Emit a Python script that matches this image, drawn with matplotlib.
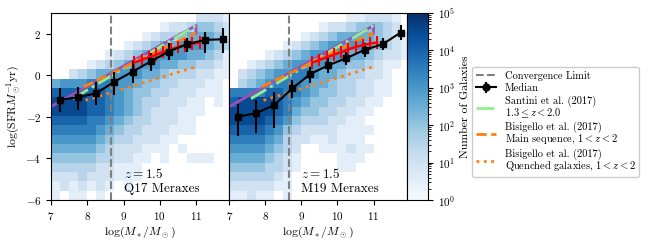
import numpy as np
import matplotlib.pyplot as plt
from matplotlib.colors import LogNorm
from matplotlib.lines import Line2D

plt.rcParams['font.family'] = 'serif'
plt.rcParams['font.serif'] = ['cmr10']
plt.rcParams['mathtext.fontset'] = 'cm'
plt.rcParams['axes.formatter.use_mathtext'] = True

# 2D histogram, top row (SFR ~ 3) first.
# '.' = empty, digit d = log10(count) ~ 0.5*d
q17_grid = [
    "................2221",
    "............12234432",
    "..........1233455542",
    "........123455666543",
    "......12345666655431",
    "....1234566655443321",
    "..234556665543332211",
    "5666777665443322211.",
    "8888887654433222111.",
    "99998876543322211.1.",
    "99998876543222111...",
    "8888776543322211....",
    "7777765433222111....",
    "66666543322211......",
    "5555543222111.1.....",
    "44444332211.1..111..",
    "3333322111..........",
    "2223222111..........",
    "1212121.1...........",
    "1.11.1..............",
]
m19_grid = [
    ".............112221.",
    "..........122344432.",
    "........123455554321",
    "......12345666654321",
    "....1234566665543221",
    "..12345666655443211.",
    ".23456677655433221..",
    ".34567776554332211..",
    "777788776544332211..",
    "89999876544332211...",
    "9999987544332211....",
    "999987643332211.....",
    "8888764322221111....",
    "777765322112111.....",
    "66665432..111211....",
    "55554321....111.....",
    "44443321....11......",
    "3333321.............",
    "2222211.............",
    "11211.1.............",
]
mass_edges = np.linspace(7, 12, 21)
sfr_edges = np.linspace(-6, 3, 21)

# medians with asymmetric errors
med_x = [7.25, 7.75, 8.25, 8.75, 9.25, 9.75, 10.25, 10.75, 11.25, 11.75]
q17_med = [-1.18, -1.05, -0.86, -0.30, 0.18, 0.67, 1.15, 1.50, 1.71, 1.74]
q17_lo = [0.56, 0.61, 0.56, 0.64, 0.56, 0.45, 0.40, 0.35, 0.64, 0.67]
q17_hi = [0.56, 0.48, 0.56, 0.48, 0.53, 0.40, 0.40, 0.29, 0.40, 0.53]
m19_med = [-1.98, -1.82, -1.42, -0.62, 0.07, 0.49, 0.83, 1.23, 1.50, 2.06]
m19_lo = [0.93, 0.96, 1.12, 0.48, 0.45, 0.39, 0.32, 0.32, 0.27, 0.35]
m19_hi = [0.61, 0.64, 0.64, 0.40, 0.35, 0.34, 0.32, 0.32, 0.29, 0.37]

# observational points (red)
obs_x = [9.3, 9.5, 9.7, 9.9, 10.1, 10.3, 10.5, 10.7, 10.9, 11.1]
obs_y = [0.62, 0.75, 0.87, 1.0, 1.12, 1.25, 1.37, 1.45, 1.53, 1.58]
obs_err = 0.3

# relations
ms_x = [7.0, 11.0, 11.0]
ms_y = [-1.5, 2.4, 2.02]
santini_x = [7.6, 11.0]
santini_y = [-1.12, 2.4]
bis_ms_x = [7.9, 11.0]
bis_ms_y = [-0.55, 2.05]
bis_q_x = [7.95, 11.0]
bis_q_y = [-1.2, 0.42]
conv_limit = 8.65


def grid_counts(rows):
    lev = np.array([[np.nan if c == '.' else float(c) for c in r] for r in rows])
    return np.ma.masked_invalid(10 ** (0.5 * lev))[::-1]


fig = plt.figure(figsize=(6.5, 2.44), dpi=100)
ax1 = fig.add_axes([0.0785, 0.1803, 0.2743, 0.766])
ax2 = fig.add_axes([0.3528, 0.1803, 0.2729, 0.766])
cax = fig.add_axes([0.6257, 0.1803, 0.0328, 0.766])

norm = LogNorm(1, 1e5)
panels = [(ax1, q17_grid, q17_med, q17_lo, q17_hi, 'Q17 Meraxes'),
          (ax2, m19_grid, m19_med, m19_lo, m19_hi, 'M19 Meraxes')]
for ax, grid, med, lo, hi, name in panels:
    mesh = ax.pcolormesh(mass_edges, sfr_edges, grid_counts(grid), cmap='Blues', norm=norm)
    ax.plot(ms_x, ms_y, color='#9c4fb8', lw=2)
    ax.plot(santini_x, santini_y, color='#90ee90', lw=2, ls='-.')
    ax.plot(bis_ms_x, bis_ms_y, color='#ff7f0e', lw=2, ls='--')
    ax.plot(bis_q_x, bis_q_y, color='#ff7f0e', lw=2, ls=':')
    ax.errorbar(obs_x, obs_y, yerr=obs_err, color='red', lw=1.8, elinewidth=1.5)
    ax.errorbar(med_x, med, yerr=[lo, hi], color='k', marker='s', ms=5, lw=1.5, elinewidth=1.5)
    ax.axvline(conv_limit, color='gray', ls='--', lw=1.5)
    ax.text(9.0, -5.75, '$z = 1.5$\n' + name, fontsize=9.5, ha='left', va='bottom')
    ax.set_xlim(7, 11.92)
    ax.set_ylim(-6, 3)
    ax.set_xticks([7, 8, 9, 10, 11])
    ax.set_yticks([-6, -4, -2, 0, 2])
    ax.tick_params(labelsize=8)
    ax.set_xlabel(r'$\log(M_*/M_\odot)$', fontsize=8.5, labelpad=2)

ax1.set_ylabel(r'$\log(\mathrm{SFR}M_\odot^{-1}\mathrm{yr})$', fontsize=8.5, labelpad=2)
ax1.tick_params(right=True)
ax2.tick_params(labelleft=False, left=False)

cb = fig.colorbar(mesh, cax=cax)
cb.ax.tick_params(labelsize=8)
cb.set_label('Number of Galaxies', fontsize=8.5, labelpad=4)

handles = [
    Line2D([], [], color='gray', ls='--', lw=1.5),
    ax1.errorbar([], [], yerr=[], color='k', marker='o', ms=5, lw=1.5),
    Line2D([], [], color='#90ee90', ls='-.', lw=2),
    Line2D([], [], color='#ff7f0e', ls='--', lw=2),
    Line2D([], [], color='#ff7f0e', ls=':', lw=2),
]
labels = ['Convergence Limit', 'Median',
          'Santini et al. (2017)\n$1.3 \\leq z < 2.0$',
          'Bisigello et al. (2017)\nMain sequence, $1 < z < 2$',
          'Bisigello et al. (2017)\nQuenched galaxies, $1 < z < 2$']
leg = fig.legend(handles, labels, loc='center left', bbox_to_anchor=(0.718, 0.5),
                 fontsize=7.5, handlelength=2, labelspacing=0.25, borderpad=0.35,
                 handletextpad=0.8, framealpha=1, edgecolor='#cccccc')
for t in leg.get_texts():
    t.set_linespacing(0.95)

fig.savefig('out.png', dpi=100)
